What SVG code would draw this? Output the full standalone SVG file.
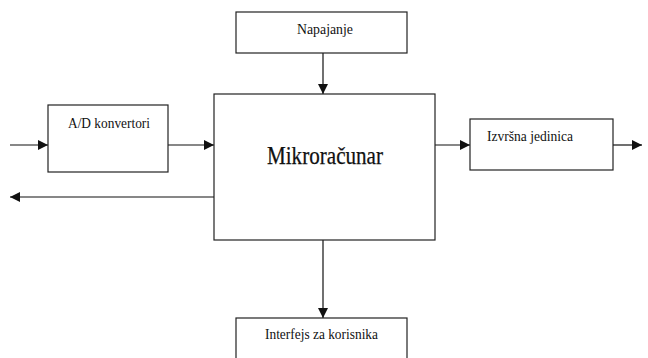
<svg xmlns="http://www.w3.org/2000/svg" width="648" height="358" viewBox="0 0 648 358">
  <style>
    .box { fill: #fff; stroke: #222; stroke-width: 1.2; }
    .lbl { font-family: "Liberation Serif", "DejaVu Serif", serif; font-size: 14px; fill: #111; }
    .big { font-family: "Liberation Serif", "DejaVu Serif", serif; font-size: 25px; fill: #111; stroke: #111; stroke-width: 0.25; }
    .wire { stroke: #111; stroke-width: 1.2; fill: none; }
  </style>
  <defs>
    <marker id="arrow" viewBox="0 0 10 10" refX="10" refY="5" markerWidth="10" markerHeight="10" markerUnits="userSpaceOnUse" orient="auto">
      <path d="M0,0 L10,5 L0,10 Z" fill="#111"/>
    </marker>
  </defs>
  <rect width="648" height="358" fill="#fff"/>

  <g id="connectors">
    <line class="wire" x1="323" y1="53" x2="323" y2="94" marker-end="url(#arrow)"/>
    <line class="wire" x1="10" y1="145" x2="48" y2="145" marker-end="url(#arrow)"/>
    <line class="wire" x1="168" y1="145" x2="214" y2="145" marker-end="url(#arrow)"/>
    <line class="wire" x1="214" y1="197" x2="10" y2="197" marker-end="url(#arrow)"/>
    <line class="wire" x1="435" y1="145" x2="470" y2="145" marker-end="url(#arrow)"/>
    <line class="wire" x1="613" y1="145" x2="642" y2="145" marker-end="url(#arrow)"/>
    <line class="wire" x1="323" y1="240" x2="323" y2="318" marker-end="url(#arrow)"/>
  </g>

  <g id="napajanje">
    <rect class="box" x="236" y="12" width="171" height="41"/>
    <text class="lbl" x="297" y="34" textLength="56" lengthAdjust="spacingAndGlyphs">Napajanje</text>
  </g>

  <g id="ad-konvertori">
    <rect class="box" x="48" y="105" width="120" height="67"/>
    <text class="lbl" x="68" y="128" textLength="82" lengthAdjust="spacingAndGlyphs">A/D konvertori</text>
  </g>

  <g id="mikroracunar">
    <rect class="box" x="214" y="94" width="221" height="146"/>
    <text class="big" x="267" y="164" textLength="116" lengthAdjust="spacingAndGlyphs">Mikroračunar</text>
  </g>

  <g id="izvrsna-jedinica">
    <rect class="box" x="470" y="119" width="143" height="51"/>
    <text class="lbl" x="487" y="141" textLength="86" lengthAdjust="spacingAndGlyphs">Izvršna jedinica</text>
  </g>

  <g id="interfejs">
    <rect class="box" x="236" y="318" width="171" height="45"/>
    <text class="lbl" x="265" y="339" textLength="113" lengthAdjust="spacingAndGlyphs">Interfejs za korisnika</text>
  </g>
</svg>
